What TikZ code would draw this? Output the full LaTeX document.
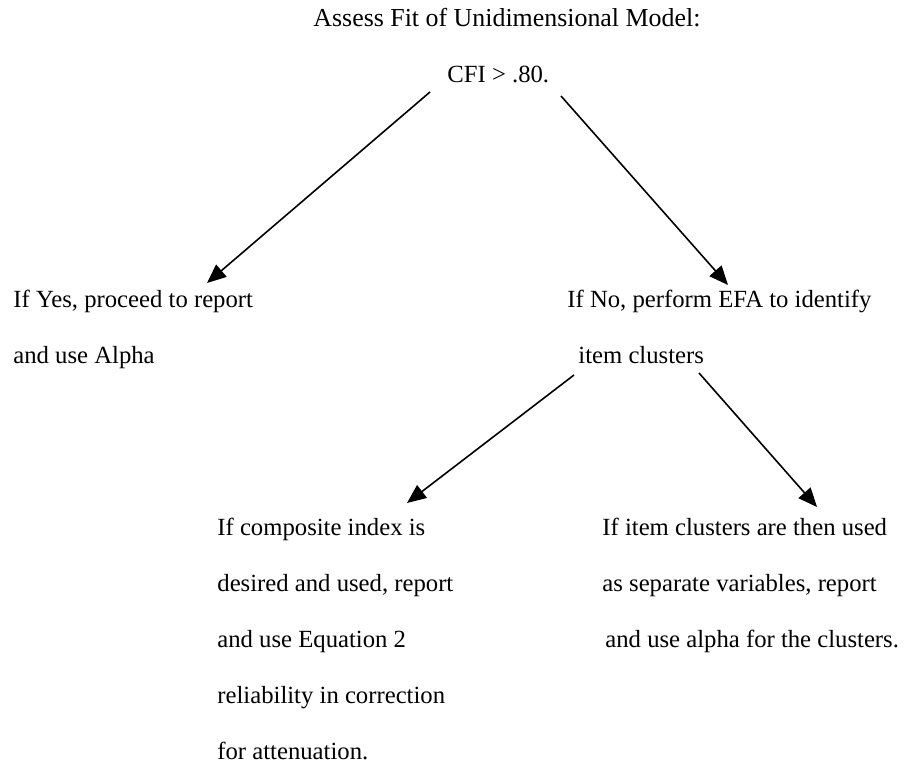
\documentclass[tikz,border=0pt]{standalone}
\usepackage{fontspec}
\setmainfont{Liberation Serif}
\usetikzlibrary{arrows.meta,calc}

\tikzset{
    txt/.style={inner sep=0pt, anchor=base west, align=left,
        font=\fontsize{12.35}{28}\selectfont},
    link/.style={line width=0.8pt, -{Triangle[length=9.5pt,width=8pt]}}
}

\begin{document}
\begin{tikzpicture}[x=0.5pt,y=-0.5pt]
    \useasboundingbox (0,0) rectangle (904,764);

    % Top of the tree (base of a node = its last line)
    \node[txt, font=\fontsize{12.95}{28}\selectfont] (title) at (313,27) {Assess Fit of Unidimensional Model:};
    \node[txt] (cfi) at (447,83) {CFI > .80.};

    % First split
    \node[txt] (yes) at (13,364) {If Yes, proceed to report\\and use Alpha};
    \node[txt] (no) at (567,308) {If No, perform EFA to identify};
    \node[txt] (clusters) at (578,364) {item clusters};

    % Second split
    \node[txt] (composite) at (217,759) {If composite index is\\desired and used, report\\and use Equation 2\\reliability in correction\\for attenuation.};
    \node[txt] (separate) at (602,647) {If item clusters are then used\\as separate variables, report\\\hspace*{1.5pt}and use alpha for the clusters.};

    % Arrows
    \draw[link] ($(cfi.base west)+(-17,9)$) -- ($(yes.base west)+(194,-81)$);
    \draw[link] ($(cfi.base west)+(114,13)$) -- ($(no.base west)+(161,-23)$);
    \draw[link] ($(clusters.base west)+(-4,11)$) -- ($(composite.base west)+(190,-256)$);
    \draw[link] ($(clusters.base west)+(121,9)$) -- ($(separate.base west)+(215,-140)$);
\end{tikzpicture}
\end{document}
